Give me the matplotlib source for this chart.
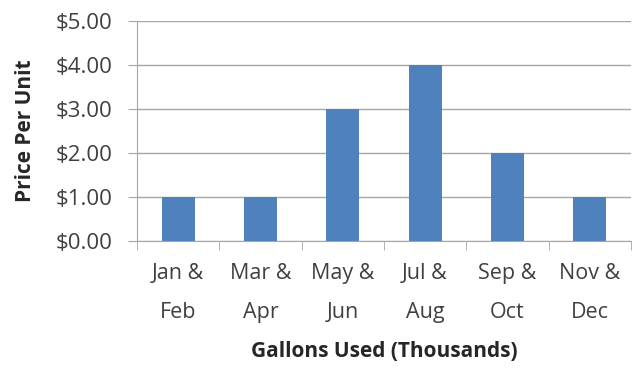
import matplotlib
matplotlib.use("Agg")
from matplotlib import pyplot as plt
from matplotlib.ticker import FuncFormatter, FixedLocator

periods = ["Jan &\nFeb", "Mar &\nApr", "May &\nJun", "Jul &\nAug", "Sep &\nOct", "Nov &\nDec"]
prices = [1, 1, 3, 4, 2, 1]

plt.rcParams['font.family'] = ['Open Sans', 'DejaVu Sans']

fig = plt.figure(figsize=(6.34, 3.70), dpi=100)
ax = fig.add_axes([0.216, 0.349, 0.779, 0.594])

x = range(len(prices))
ax.bar(x, prices, width=0.4, color="#4f81bd", zorder=3)

ax.set_xlim(-0.5, len(prices) - 0.5)
ax.set_ylim(0, 5)
ax.set_yticks([0, 1, 2, 3, 4, 5])
ax.yaxis.set_major_formatter(FuncFormatter(lambda v, p: "${:.2f}".format(v)))
ax.grid(axis="y", color="#a6a6a6", linewidth=1, zorder=0)

ax.set_xticks(list(x))
ax.set_xticklabels(periods, fontsize=15.5, color="#404040", linespacing=2.1)
ax.tick_params(axis="x", length=0, pad=16)
ax.xaxis.set_minor_locator(FixedLocator([i - 0.5 for i in range(len(prices) + 1)]))
ax.tick_params(axis="x", which="minor", length=6.5, color="#a6a6a6")
ax.tick_params(axis="y", length=6.5, color="#a6a6a6", labelsize=16, labelcolor="#404040", pad=11)

for s in ["top", "right"]:
    ax.spines[s].set_visible(False)
ax.spines["left"].set_color("#a6a6a6")
ax.spines["bottom"].set_color("#a6a6a6")

ax.set_xlabel("Gallons Used (Thousands)", fontsize=15, fontweight="bold", color="#262626", labelpad=13)
ax.set_ylabel("Price Per Unit", fontsize=15, fontweight="bold", color="#262626", labelpad=14)

fig.savefig("out.png", dpi=100)
